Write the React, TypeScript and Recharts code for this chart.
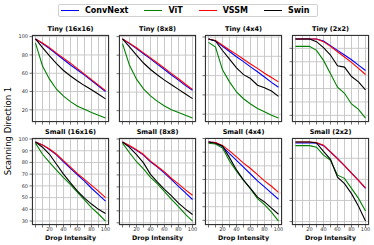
import { LineChart, Line, XAxis, YAxis, CartesianGrid } from "recharts";

const drop = [0, 10, 20, 30, 40, 50, 60, 70, 80, 90, 100];
const dropLabels = [20, 40, 60, 80, 100];
const models = ["ConvNext", "ViT", "VSSM", "Swin"];

const tiny16 = {
  ConvNext: [97.5, 92.5, 87, 81, 75, 69, 63.5, 58, 52, 46, 40],
  ViT: [93, 68, 53.5, 42.5, 35, 29, 24, 20.5, 17, 14, 11],
  VSSM: [97.5, 93, 88, 82, 76.5, 71, 65, 59, 53, 47, 41],
  Swin: [97.5, 88, 79, 70.5, 63, 57, 51.5, 46.5, 42, 37, 32],
};
const tiny8 = {
  ConvNext: [97.5, 92.5, 87, 81.5, 76, 70, 64.5, 58.5, 53, 47, 42],
  ViT: [92.5, 69, 54, 43.5, 36, 30, 25, 21, 18, 15, 12],
  VSSM: [97.5, 93, 88, 82.5, 77, 71.5, 66, 60, 54.5, 48.5, 43],
  Swin: [97.5, 89, 80, 71.5, 64.5, 58.5, 53, 48, 43, 38, 33],
};
const tiny4 = {
  ConvNext: [98, 96, 90.5, 85, 79.5, 74.5, 69, 64, 58.5, 53, 48],
  ViT: [94.5, 89.5, 66, 53.5, 43, 36, 30.5, 26, 22.5, 19, 16],
  VSSM: [98, 96.5, 91.5, 86.5, 82, 77, 72, 67.5, 62.5, 58, 53.5],
  Swin: [98, 96, 86, 77, 68, 61, 57, 50, 47.5, 44, 38.5],
};
const tiny2 = {
  ConvNext: [97, 97, 97, 97, 95.5, 92, 88.5, 85, 81.5, 77.5, 73.5],
  ViT: [91.5, 91.5, 91.5, 88.5, 81, 71, 61, 56.5, 48.5, 44.5, 38],
  VSSM: [97, 97, 97, 97, 95, 91.5, 87.5, 83.5, 79.5, 75, 70.5],
  Swin: [97, 97, 97, 95, 90.5, 85, 77, 76, 69, 65, 59],
};
const small16 = {
  ConvNext: [97.5, 95, 91, 86.5, 80.5, 75, 69.5, 64, 58, 52.5, 47],
  ViT: [96.5, 87, 80, 73.5, 67, 61, 54.5, 48, 41.5, 36, 30],
  VSSM: [97.5, 95, 91.5, 87, 81.5, 76, 70.5, 65.5, 60.5, 55.5, 50],
  Swin: [97.5, 93, 87, 78.5, 70, 62.5, 55.5, 49.5, 44.5, 40, 36.5],
};
const small8 = {
  ConvNext: [97.5, 94, 90.5, 86.5, 81, 76.5, 71.5, 66, 60.5, 55, 49.5],
  ViT: [96.5, 88.5, 81, 75, 68, 62.5, 56, 49.5, 43.5, 37, 31.5],
  VSSM: [97.5, 94.5, 91, 87, 81.5, 77, 72.5, 67, 62.5, 57.5, 53],
  Swin: [97.5, 93, 87, 80, 70.5, 64, 58, 52.5, 46.5, 41.5, 37],
};
const small4 = {
  ConvNext: [97.5, 97, 94, 89, 84, 79, 74, 69, 64.5, 60, 55.5],
  ViT: [96.5, 96, 93, 83.5, 76, 69.5, 63, 56, 51.5, 46, 39.5],
  VSSM: [97.5, 97, 95, 91, 86.5, 82, 78, 73.5, 69, 65, 60.5],
  Swin: [97.5, 96.5, 94.5, 86, 77, 69.5, 63.5, 57, 53.5, 49, 44.5],
};
const small2 = {
  ConvNext: [94.5, 94.5, 94.5, 94.5, 92, 86, 80, 73, 66, 59, 51.5],
  ViT: [92, 92, 92, 90.5, 83, 78, 64, 61, 51.5, 42, 30],
  VSSM: [95.5, 95.5, 95.5, 95, 92.5, 86, 79.5, 73, 66, 59, 52],
  Swin: [95.5, 95.5, 95.5, 94.5, 86.5, 79, 62, 56, 46.5, 34.5, 20.5],
};

const ticksTop = [20, 40, 60, 80, 100];
const ticksTiny2 = [40, 50, 60, 70, 80, 90];
const ticksSmall = [30, 40, 50, 60, 70, 80, 90, 100];
const ticksSmall4 = [40, 50, 60, 70, 80, 90, 100];
const ticksSmall2 = [20, 40, 60, 80];

const colors: Record<string, string> = {
  ConvNext: "#0000ff",
  ViT: "#008000",
  VSSM: "#ff0000",
  Swin: "#000000",
};

const FONT = "'DejaVu Sans', sans-serif";
const PW = 77;
const PH = 87;
const ML = 26;
const MT = 2;
const MR = 2;

const tickStyle = { fontSize: 5, fill: "#333", fontFamily: FONT };
const noLabel = () => <g />;

function Panel({ title, series, yTicks, left, top, bottomRow, showY }: any) {
  const rows = drop.map((d, i) => {
    const r: any = { drop: d };
    models.forEach((m) => (r[m] = series[m][i]));
    return r;
  });
  const vals = models.flatMap((m) => series[m]);
  const lo = Math.min(...vals);
  const hi = Math.max(...vals);
  const pad = (hi - lo) * 0.05;
  const XH = bottomRow ? 10 : 4;

  return (
    <div style={{ position: "absolute", left: left - ML, top: top - MT }}>
      <LineChart
        width={ML + PW + MR}
        height={MT + PH + XH}
        data={rows}
        margin={{ top: MT, right: MR, left: 0, bottom: 0 }}
      >
        <CartesianGrid stroke="#c4c4c4" strokeWidth={0.9} />
        <XAxis
          dataKey="drop"
          type="number"
          domain={[-5, 105]}
          allowDataOverflow
          ticks={drop}
          interval={0}
          height={XH}
          tickSize={2.5}
          tickMargin={0}
          axisLine={false}
          tickLine={{ stroke: "#333", strokeWidth: 0.7 }}
          tick={bottomRow ? tickStyle : noLabel}
          tickFormatter={(v: number) => (dropLabels.includes(v) ? String(v) : "")}
        />
        <YAxis
          type="number"
          domain={[lo - pad, hi + pad]}
          allowDataOverflow
          ticks={yTicks}
          interval={0}
          width={ML}
          tickSize={2.5}
          tickMargin={1.5}
          axisLine={false}
          tickLine={{ stroke: "#333", strokeWidth: 0.7 }}
          tick={showY ? tickStyle : noLabel}
        />
        {models.map((m) => (
          <Line
            key={m}
            dataKey={m}
            stroke={colors[m]}
            strokeWidth={1.1}
            dot={false}
            isAnimationActive={false}
          />
        ))}
      </LineChart>
      <div
        style={{
          position: "absolute",
          left: ML,
          top: MT,
          width: PW,
          height: PH,
          border: "0.8px solid #333",
          boxSizing: "border-box",
          pointerEvents: "none",
        }}
      />
      <div
        style={{
          position: "absolute",
          left: ML - 10,
          width: PW + 20,
          top: MT - 10,
          lineHeight: "8px",
          textAlign: "center",
          fontSize: 6.5,
          fontWeight: "bold",
          whiteSpace: "nowrap",
        }}
      >
        {title}
      </div>
      {bottomRow && (
        <div
          style={{
            position: "absolute",
            left: ML - 10,
            width: PW + 20,
            top: MT + PH + 8.5,
            lineHeight: "8px",
            textAlign: "center",
            fontSize: 6.3,
            fontWeight: "bold",
            whiteSpace: "nowrap",
          }}
        >
          Drop Intensity
        </div>
      )}
    </div>
  );
}

const lefts = [32, 119, 205, 292];

export default function App() {
  return (
    <div
      style={{
        position: "absolute",
        left: 0,
        top: 0,
        width: 374,
        height: 245,
        background: "#fff",
        fontFamily: FONT,
        color: "#000",
        overflow: "hidden",
      }}
    >
      <div
        style={{
          position: "absolute",
          left: 58,
          top: 4,
          width: 260,
          height: 13,
          border: "1px solid #d0d0d0",
          borderRadius: 2,
          boxSizing: "border-box",
          display: "flex",
          alignItems: "center",
          paddingLeft: 2,
          fontSize: 8,
          fontWeight: "bold",
        }}
      >
        {models.map((m) => (
          <div key={m} style={{ display: "flex", alignItems: "center", marginRight: 16 }}>
            <span style={{ width: 18, height: 1.4, background: colors[m], display: "inline-block" }} />
            <span style={{ marginLeft: 6, lineHeight: "10px" }}>{m}</span>
          </div>
        ))}
      </div>

      <div
        style={{
          position: "absolute",
          left: 8,
          top: 131,
          transform: "translate(-50%, -50%) rotate(-90deg)",
          fontSize: 8.5,
          whiteSpace: "nowrap",
        }}
      >
        Scanning Direction 1
      </div>

      <Panel title="Tiny (16x16)" series={tiny16} yTicks={ticksTop} left={lefts[0]} top={35} showY />
      <Panel title="Tiny (8x8)" series={tiny8} yTicks={ticksTop} left={lefts[1]} top={35} />
      <Panel title="Tiny (4x4)" series={tiny4} yTicks={ticksTop} left={lefts[2]} top={35} />
      <Panel title="Tiny (2x2)" series={tiny2} yTicks={ticksTiny2} left={lefts[3]} top={35} />
      <Panel title="Small (16x16)" series={small16} yTicks={ticksSmall} left={lefts[0]} top={138} bottomRow showY />
      <Panel title="Small (8x8)" series={small8} yTicks={ticksSmall} left={lefts[1]} top={138} bottomRow />
      <Panel title="Small (4x4)" series={small4} yTicks={ticksSmall4} left={lefts[2]} top={138} bottomRow />
      <Panel title="Small (2x2)" series={small2} yTicks={ticksSmall2} left={lefts[3]} top={138} bottomRow />
    </div>
  );
}
